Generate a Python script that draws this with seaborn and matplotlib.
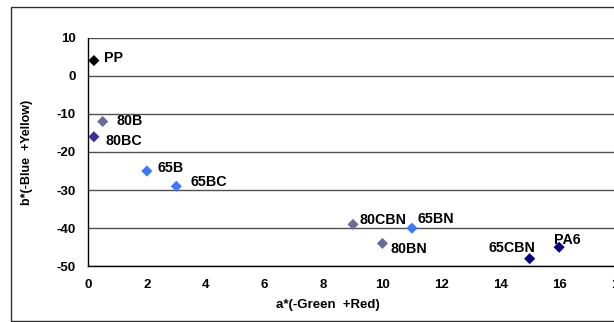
import matplotlib
matplotlib.use("Agg")
import matplotlib.pyplot as plt
import seaborn as sns
import pandas as pd
from matplotlib.patches import Rectangle

samples = ["PP", "80B", "80BC", "65B", "65BC", "80CBN", "65BN", "80BN", "65CBN", "PA6"]
a_star = [0.2, 0.5, 0.2, 2, 3, 9, 11, 10, 15, 16]
b_star = [4, -12, -16, -25, -29, -39, -40, -44, -48, -45]
colors = ["#000000", "#6B6B9C", "#333399", "#3A78FF", "#3A78FF",
          "#6B6B9C", "#3A78FF", "#6B6B9C", "#000080", "#000080"]
label_offsets = [(10, 3), (14, 1), (12, -4), (11, 3), (14, 4),
                 (6, 4), (6, 9), (8, -6), (-41, 11), (-5, 7)]
x_ticks = [0, 2, 4, 6, 8, 10, 12, 14, 16, 18]
y_ticks = [10, 0, -10, -20, -30, -40, -50]

df = pd.DataFrame({"sample": samples, "a": a_star, "b": b_star})

sns.set_style("white")
plt.rcParams["font.family"] = ["Liberation Sans", "DejaVu Sans"]
plt.rcParams["text.color"] = "black"
plt.rcParams["axes.labelcolor"] = "black"
plt.rcParams["xtick.color"] = "black"
plt.rcParams["ytick.color"] = "black"

W, H = 614, 322
fig = plt.figure(figsize=(W / 100, H / 100), dpi=100)
fig.patch.set_facecolor("white")
fig.patches.append(Rectangle((11 / W, 1.5 / H), 1.2, (H - 7 - 1.5) / H,
                             transform=fig.transFigure, fill=False,
                             edgecolor="#303030", lw=1.0))

left, right = 88, 618
bottom_px, top_px = 266.3, 37.7
ax = fig.add_axes([left / W, (H - bottom_px) / H, (right - left) / W, (bottom_px - top_px) / H])
ax.set_facecolor("none")

sns.scatterplot(data=df, x="a", y="b", hue="sample",
                palette=dict(zip(samples, colors)), marker="D", s=32,
                linewidth=0, legend=False, ax=ax, zorder=3)

for s, x, y, off in zip(samples, a_star, b_star, label_offsets):
    ax.annotate(s, (x, y), xytext=off, textcoords="offset pixels",
                fontsize=10.3, fontweight="bold", va="center", ha="left", color="black")

ax.set_xlim(0, 18)
ax.set_ylim(-50, 10)
ax.set_xticks(x_ticks)
ax.set_yticks(y_ticks)
ax.set_xticklabels([str(t) for t in x_ticks], fontsize=9.5, fontweight="bold")
ax.set_yticklabels([str(t) for t in y_ticks], fontsize=9.5, fontweight="bold")
ax.yaxis.grid(True, color="#505050", lw=1.0)
ax.set_axisbelow(True)
for side in ["top", "right"]:
    ax.spines[side].set_visible(False)
for side in ["left", "bottom"]:
    ax.spines[side].set_color("#000000")
    ax.spines[side].set_linewidth(1.0)
ax.tick_params(axis="both", direction="out", length=4, width=1, color="#000000", labelcolor="black")
ax.tick_params(axis="y", pad=5)
ax.tick_params(axis="x", pad=5)

ax.set_xlabel("a*(-Green  +Red)", fontsize=9.5, fontweight="bold", color="black")
ax.xaxis.set_label_coords((328 - left) / (right - left), -(299 - bottom_px) / (bottom_px - top_px), transform=ax.transAxes)
ax.set_ylabel("b*(-Blue  +Yellow)", fontsize=9, fontweight="bold", color="black")
ax.yaxis.set_label_coords(-(left - 33) / (right - left), 0.5, transform=ax.transAxes)

fig.savefig("out.png", dpi=100)
